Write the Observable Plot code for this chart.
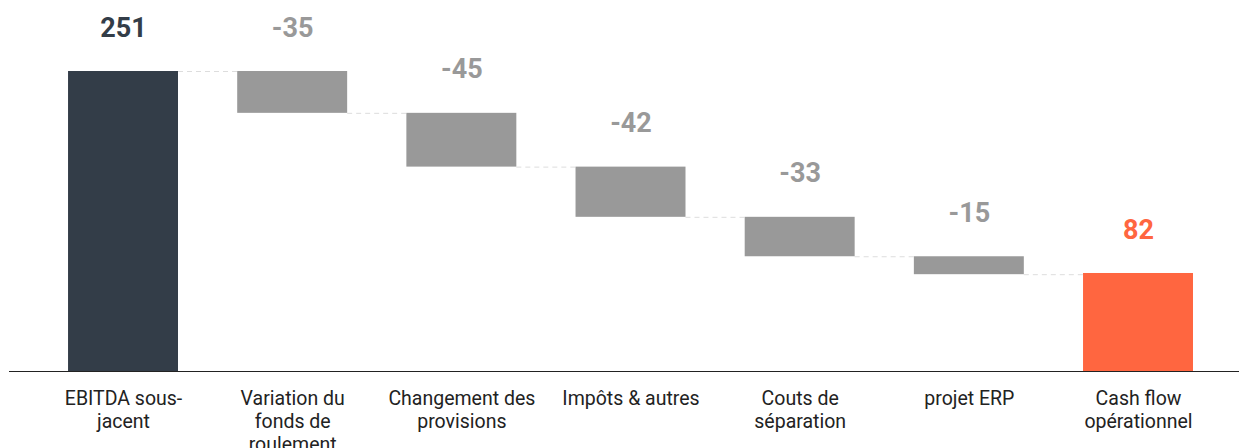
<!DOCTYPE html>
<html>
<head>
<meta charset="utf-8">
<script src="https://cdn.jsdelivr.net/npm/d3@7"></script>
<script src="https://cdn.jsdelivr.net/npm/@observablehq/plot@0.6"></script>
<style>
  html, body { margin: 0; padding: 0; background: #fff; }
  #chart { width: 1239px; height: 448px; overflow: hidden; }
  svg { display: block; font-family: Roboto, sans-serif; }
</style>
</head>
<body>
<div id="chart"></div>
<script>
const categories = [
  "EBITDA sous-\njacent",
  "Variation du\nfonds de\nroulement",
  "Changement des\nprovisions",
  "Impôts & autres",
  "Couts de\nséparation",
  "projet ERP",
  "Cash flow\nopérationnel"
];
const values = [251, -35, -45, -42, -33, -15, 82];
const kinds = ["start", "delta", "delta", "delta", "delta", "delta", "end"];
const valueLabels = ["251", "-35", "-45", "-42", "-33", "-15", "82"];

const colorOf = {start: "#333d48", delta: "#999999", end: "#ff6640"};

let running = 0;
const rows = categories.map((c, i) => {
  let y1, y2;
  if (kinds[i] === "delta") { y1 = running; y2 = running + values[i]; running = y2; }
  else { y1 = 0; y2 = values[i]; running = values[i]; }
  return {i, cat: c, kind: kinds[i], y1, y2, top: Math.max(y1, y2), end: y2, label: valueLabels[i]};
});
const half = 0.325;
const connectors = rows.slice(0, -1).map(r => ({x1: r.i + half, x2: r.i + 1 - half, y: r.end}));

const chart = Plot.plot({
  width: 1239,
  height: 448,
  marginLeft: 9,
  marginRight: 0,
  marginTop: 71,
  marginBottom: 77,
  x: {type: "linear", domain: [-0.674, 6.597], axis: null},
  y: {domain: [0, 251], axis: null},
  marks: [
    Plot.ruleY(connectors, {x1: "x1", x2: "x2", y: "y", stroke: "#dddddd", strokeWidth: 1, strokeDasharray: "5,4"}),
    Plot.rectY(rows, {x1: d => d.i - half, x2: d => d.i + half, y1: "y1", y2: "y2", fill: d => colorOf[d.kind]}),
    Plot.ruleY([0], {stroke: "#222", strokeWidth: 1.2}),
    Plot.text(rows, {x: "i", y: "top", text: "label", dy: -43.5, fontSize: 27, fontWeight: "bold", fill: d => colorOf[d.kind]}),
    Plot.text(rows, {x: "i", y: 0, text: "cat", lineAnchor: "top", dy: 16.5, fontSize: 19.5, lineHeight: 1.2, fill: "#222"})
  ]
});
document.getElementById("chart").append(chart);
</script>
</body>
</html>
